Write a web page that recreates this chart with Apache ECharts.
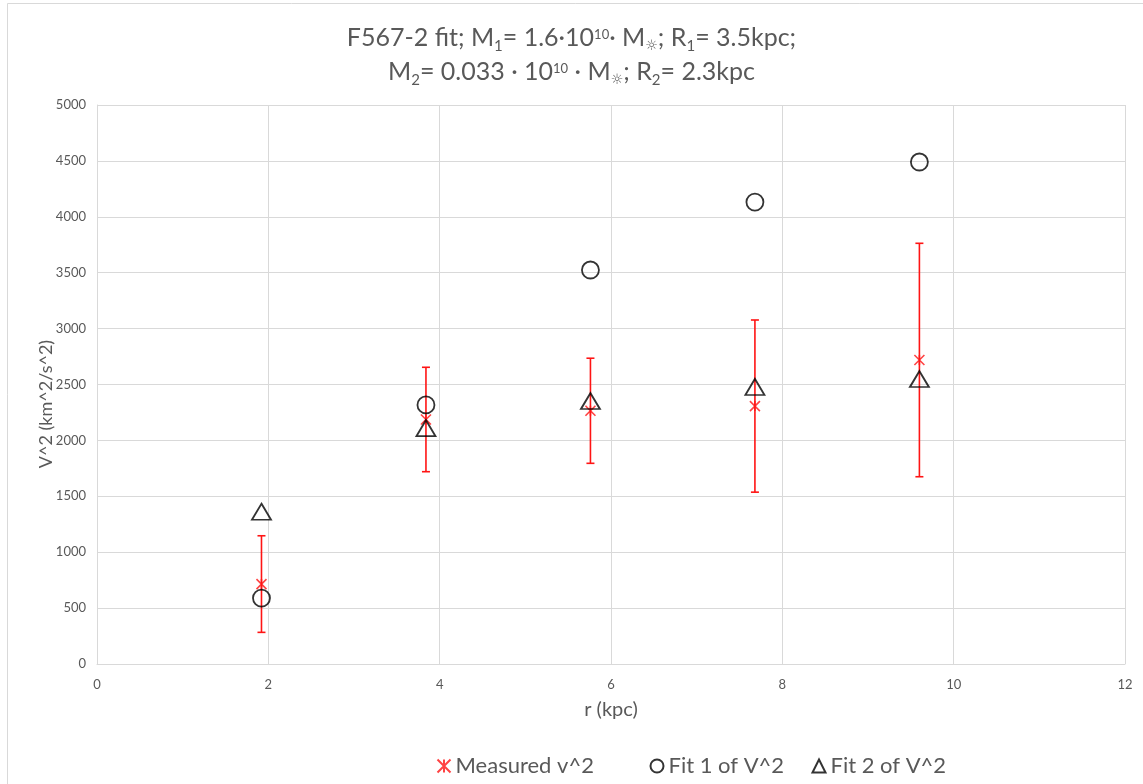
<!DOCTYPE html>
<html>
<head>
<meta charset="utf-8">
<script src="https://cdn.jsdelivr.net/npm/echarts@6/dist/echarts.min.js"></script>
<style>
html,body{margin:0;padding:0;background:#fff;}
#chart{width:1143px;height:784px;}
</style>
</head>
<body>
<div id="chart"></div>
<script>
// ---- data ----
const radii = [1.92, 3.84, 5.76, 7.68, 9.6];
const measured = [715, 2187, 2265, 2307, 2719];
const measuredErr = [432, 467, 470, 770, 1044];
const fit1 = [590, 2317, 3524, 4132, 4490];
const fit2 = [1362, 2110, 2352, 2478, 2549];
const seriesNames = ['Measured v^2', 'Fit 1 of V^2', 'Fit 2 of V^2'];
const xTitle = 'r (kpc)';
const yTitle = 'V^2 (km^2/s^2)';

const FONT = 'Lato, "Open Sans", sans-serif';
const TXT = '#595959';

const chart = echarts.init(document.getElementById('chart'), null, {renderer: 'canvas'});

const pairs = arr => radii.map((r, i) => [r, arr[i]]);
const errData = radii.map((r, i) => [r, measured[i] - measuredErr[i], measured[i] + measuredErr[i]]);

const legendLefts = [430, 643, 805];
const legendCommon = {
  top: 750,
  itemWidth: 13,
  itemHeight: 13,
  itemGap: 10,
  textStyle: {fontFamily: FONT, fontSize: 22, color: TXT}
};

const option = {
  backgroundColor: '#fff',
  animation: false,
  title: {
    left: 'center',
    top: 21,
    padding: 0,
    text: 'F567-2 fit; M{s|1}= 1.6·10{p|10}· M{sun|☼}; R{s|1}= 3.5kpc;\nM{s|2}= 0.033 · 10{p|10} · M{sun|☼}; R{s|2}= 2.3kpc',
    textStyle: {
      fontFamily: FONT, fontSize: 25, fontWeight: 'normal', color: TXT, lineHeight: 34,
      rich: {
        s: {fontFamily: FONT, fontSize: 15, color: TXT, verticalAlign: 'bottom', height: 18, lineHeight: 18},
        sun: {fontFamily: 'DejaVu Sans', fontSize: 14, color: TXT, verticalAlign: 'bottom', height: 18, lineHeight: 18},
        p: {fontFamily: FONT, fontSize: 13, color: TXT, verticalAlign: 'top', height: 27, lineHeight: 27}
      }
    }
  },
  graphic: [{
    type: 'rect', silent: true, z: -10,
    shape: {x: 7.5, y: 3.5, width: 1200, height: 900},
    style: {fill: 'none', stroke: '#d9d9d9', lineWidth: 1}
  }, {
    type: 'text', silent: true,
    x: 46, y: 404, rotation: Math.PI / 2,
    style: {text: yTitle, fontFamily: FONT, fontSize: 18, fill: TXT, align: 'center', verticalAlign: 'middle'}
  }],
  legend: seriesNames.map((n, i) => Object.assign({}, legendCommon, {left: legendLefts[i], data: [n]})),
  grid: {left: 97, right: 18, top: 105, bottom: 120, containLabel: false},
  xAxis: {
    type: 'value', min: 0, max: 12, interval: 2,
    name: xTitle, nameLocation: 'middle', nameGap: 36,
    nameTextStyle: {fontFamily: FONT, fontSize: 20, color: TXT},
    axisLine: {show: true, onZero: false, lineStyle: {color: '#d9d9d9'}},
    axisTick: {show: false},
    axisLabel: {fontFamily: FONT, fontSize: 13, color: TXT, margin: 14},
    splitLine: {show: true, lineStyle: {color: '#d9d9d9', width: 1}}
  },
  yAxis: {
    type: 'value', min: 0, max: 5000, interval: 500,
    axisLine: {show: true, onZero: false, lineStyle: {color: '#d9d9d9'}},
    axisTick: {show: false},
    axisLabel: {fontFamily: FONT, fontSize: 13, color: TXT, margin: 11, formatter: v => String(v)},
    splitLine: {show: true, lineStyle: {color: '#d9d9d9', width: 1}}
  },
  series: [
    {
      type: 'custom',
      name: 'errorbars',
      z: 1,
      silent: true,
      data: errData,
      renderItem: function (params, api) {
        const x = api.value(0);
        const top = api.coord([x, api.value(2)]);
        const bot = api.coord([x, api.value(1)]);
        const w = 4;
        const st = {stroke: '#FF1414', lineWidth: 1.6};
        return {
          type: 'group',
          children: [
            {type: 'line', shape: {x1: top[0], y1: top[1], x2: bot[0], y2: bot[1]}, style: st},
            {type: 'line', shape: {x1: top[0] - w, y1: top[1], x2: top[0] + w, y2: top[1]}, style: st},
            {type: 'line', shape: {x1: bot[0] - w, y1: bot[1], x2: bot[0] + w, y2: bot[1]}, style: st}
          ]
        };
      }
    },
    {
      type: 'scatter',
      name: seriesNames[0],
      z: 3,
      symbol: 'path://M0,0L10,10M0,10L10,0M5,0L5,10',
      symbolSize: 10,
      itemStyle: {color: 'none', borderColor: '#FF1414', borderWidth: 1.6},
      data: pairs(measured)
    },
    {
      type: 'scatter',
      name: seriesNames[1],
      z: 4,
      symbol: 'circle',
      symbolSize: 17,
      itemStyle: {color: 'none', borderColor: '#000', borderWidth: 1.8},
      data: pairs(fit1)
    },
    {
      type: 'scatter',
      name: seriesNames[2],
      z: 4,
      symbol: 'triangle',
      symbolSize: [19, 16],
      itemStyle: {color: 'none', borderColor: '#000', borderWidth: 1.8},
      data: pairs(fit2)
    }
  ]
};
chart.setOption(option);
</script>
</body>
</html>
